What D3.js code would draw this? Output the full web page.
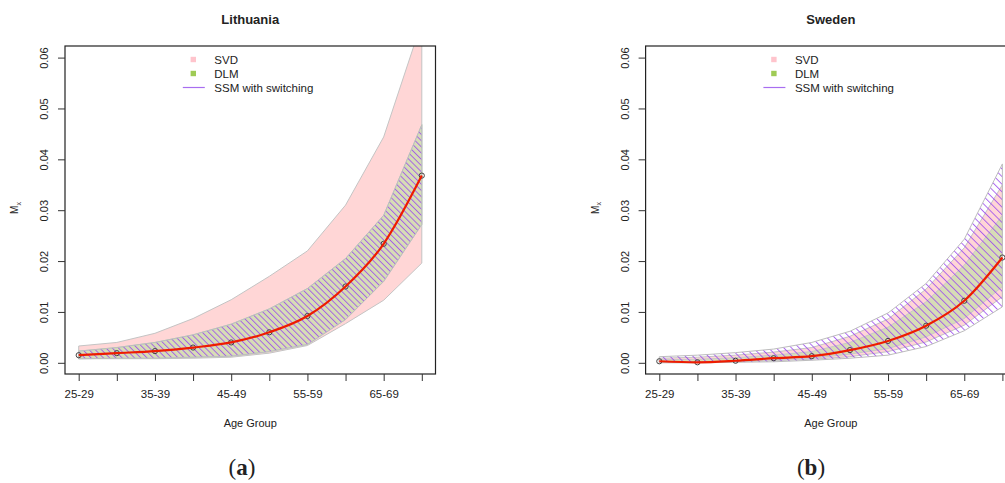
<!DOCTYPE html>
<html>
<head>
<meta charset="utf-8">
<script src="https://cdn.jsdelivr.net/npm/d3@7"></script>
<style>
  html, body { margin: 0; padding: 0; background: #fff; overflow: hidden; }
  svg { display: block; }
  text { font-family: "Liberation Sans", Arial, sans-serif; fill: #222; }
</style>
</head>
<body>
<script>
// ---------- data ----------
const ageGroups = ["25-29","30-34","35-39","40-44","45-49","50-54","55-59","60-64","65-69","70-74"];
const yTicks = [0.00, 0.01, 0.02, 0.03, 0.04, 0.05, 0.06];
const legendLabels = ["SVD", "DLM", "SSM with switching"];
const panelTitles = ["Lithuania", "Sweden"];
const panelTags = ["a", "b"];

// Lithuania
const ltMean     = [0.0015, 0.0019, 0.0023, 0.0030, 0.0040, 0.0060, 0.0092, 0.0150, 0.0234, 0.0368];
const ltSvdLower = [0.0008, 0.0008, 0.0008, 0.0009, 0.0011, 0.0019, 0.0034, 0.0077, 0.0123, 0.0196];
const ltSvdUpper = [0.0033, 0.0040, 0.0058, 0.0087, 0.0124, 0.0170, 0.0220, 0.0310, 0.0444, 0.0670];
const ltDlmLower = [0.0008, 0.0009, 0.0009, 0.0011, 0.0013, 0.0022, 0.0036, 0.0085, 0.0160, 0.0272];
const ltDlmUpper = [0.0023, 0.0030, 0.0040, 0.0055, 0.0076, 0.0106, 0.0146, 0.0205, 0.0290, 0.0468];
const ltSsmLower = [0.0008, 0.0009, 0.0009, 0.0011, 0.0013, 0.0022, 0.0036, 0.0085, 0.0160, 0.0272];
const ltSsmUpper = [0.0023, 0.0030, 0.0040, 0.0055, 0.0076, 0.0106, 0.0146, 0.0205, 0.0290, 0.0468];

// Sweden
const seMean     = [0.0003, 0.0001, 0.0004, 0.0009, 0.0013, 0.0025, 0.0043, 0.0073, 0.0122, 0.0207];
const seSvdLower = [0.0001, 0.0001, 0.0002, 0.0004, 0.0007, 0.0012, 0.0022, 0.0041, 0.0074, 0.0130];
const seSvdUpper = [0.0009, 0.0011, 0.0015, 0.0021, 0.0030, 0.0052, 0.0086, 0.0145, 0.0226, 0.0350];
const seDlmLower = [0.0001, 0.0002, 0.0003, 0.0006, 0.0009, 0.0017, 0.0028, 0.0051, 0.0087, 0.0150];
const seDlmUpper = [0.0006, 0.0007, 0.0010, 0.0015, 0.0022, 0.0040, 0.0070, 0.0120, 0.0192, 0.0290];
const seSsmLower = [0.0000, 0.0000, 0.0001, 0.0002, 0.0005, 0.0009, 0.0015, 0.0032, 0.0063, 0.0110];
const seSsmUpper = [0.0012, 0.0015, 0.0020, 0.0027, 0.0040, 0.0062, 0.0098, 0.0156, 0.0243, 0.0391];

const panels = [
  {mean: ltMean, svd: [ltSvdLower, ltSvdUpper], dlm: [ltDlmLower, ltDlmUpper], ssm: [ltSsmLower, ltSsmUpper], hatch: 4.4},
  {mean: seMean, svd: [seSvdLower, seSvdUpper], dlm: [seDlmLower, seDlmUpper], ssm: [seSsmLower, seSsmUpper], hatch: 5.4}
];

// ---------- layout ----------
const W = 1005, H = 483;
const svg = d3.select("body").append("svg").attr("width", W).attr("height", H);
const defs = svg.append("defs");

const plotTop = 46, plotBottom = 374, plotW = 370.5;
const panelLefts = [65, 645.6];

const y = d3.scaleLinear().domain([0, 0.06]).range([362.8, 57.6]);

panels.forEach((p, pi) => {
  const left = panelLefts[pi];
  const right = left + plotW;
  const x = d3.scalePoint().domain(ageGroups).range([left + 13.7, right - 13.7]);
  const g = svg.append("g");

  // clip
  const clipId = "clip" + pi;
  defs.append("clipPath").attr("id", clipId)
    .append("rect").attr("x", left).attr("y", plotTop).attr("width", plotW).attr("height", plotBottom - plotTop);

  // hatch pattern
  const patId = "hatch" + pi;
  const pat = defs.append("pattern").attr("id", patId)
    .attr("patternUnits", "userSpaceOnUse")
    .attr("width", p.hatch).attr("height", p.hatch)
    .attr("patternTransform", "rotate(-45)");
  pat.append("line").attr("x1", 0.5).attr("y1", -1).attr("x2", 0.5).attr("y2", p.hatch + 1)
    .attr("stroke", "#9a48ee").attr("stroke-width", 0.8);

  const area = (lo, hi) => d3.area()
    .x((d, i) => x(ageGroups[i]))
    .y0((d, i) => y(lo[i]))
    .y1((d, i) => y(hi[i]))(ageGroups);

  const bands = g.append("g").attr("clip-path", `url(#${clipId})`);
  bands.append("path").attr("d", area(p.svd[0], p.svd[1]))
    .attr("fill", "#ffd6d6").attr("stroke", "#c4c4c4").attr("stroke-width", 1);
  bands.append("path").attr("d", area(p.dlm[0], p.dlm[1]))
    .attr("fill", "#d7ddb6").attr("stroke", pi === 0 ? "#c0d8c0" : "#c8c8c8").attr("stroke-width", 1);
  bands.append("path").attr("d", area(p.ssm[0], p.ssm[1]))
    .attr("fill", `url(#${patId})`).attr("stroke", "#bdbdbd").attr("stroke-width", 1);

  // points and line
  bands.selectAll("circle").data(p.mean).join("circle")
    .attr("cx", (d, i) => x(ageGroups[i])).attr("cy", d => y(d))
    .attr("r", 2.6).attr("fill", "none").attr("stroke", "#444").attr("stroke-width", 1);
  bands.append("path")
    .attr("d", d3.line().x((d, i) => x(ageGroups[i])).y(d => y(d)).curve(d3.curveMonotoneX)(p.mean))
    .attr("fill", "none").attr("stroke", "#ee1c00").attr("stroke-width", 2.2);

  // box
  g.append("rect").attr("x", left).attr("y", plotTop).attr("width", plotW).attr("height", plotBottom - plotTop)
    .attr("fill", "none").attr("stroke", "#222").attr("stroke-width", 1.2);

  // x axis
  const xAxis = d3.axisBottom(x).tickSize(7).tickPadding(9)
    .tickFormat((d, i) => i % 2 === 0 ? d : "");
  const xa = g.append("g").attr("transform", `translate(0,${plotBottom})`).call(xAxis);
  xa.select(".domain").remove();
  xa.selectAll("line").attr("stroke", "#333");
  xa.selectAll("text").style("font-size", "11.5px").attr("fill", "#222")
    .style("font-family", "Liberation Sans, Arial, sans-serif");

  // y axis
  const yAxis = d3.axisLeft(y).tickValues(yTicks).tickSize(7).tickFormat(d3.format(".2f"));
  const ya = g.append("g").attr("transform", `translate(${left},0)`).call(yAxis);
  ya.select(".domain").remove();
  ya.selectAll("line").attr("stroke", "#333");
  ya.selectAll("text")
    .attr("x", 0).attr("dy", null).attr("dominant-baseline", "middle")
    .attr("text-anchor", "middle")
    .attr("transform", "translate(-20,0) rotate(-90)")
    .style("font-size", "11px").attr("fill", "#222")
    .style("font-family", "Liberation Sans, Arial, sans-serif");

  // title
  g.append("text").attr("x", (left + right) / 2).attr("y", 24).attr("text-anchor", "middle")
    .style("font-size", "13px").style("font-weight", "bold").text(panelTitles[pi]);

  // axis labels
  g.append("text").attr("x", (left + right) / 2).attr("y", 427).attr("text-anchor", "middle")
    .style("font-size", "11px").text("Age Group");
  const yl = g.append("text").attr("transform", `translate(${left - 47},208) rotate(-90)`)
    .attr("text-anchor", "middle").style("font-size", "10px");
  yl.append("tspan").text("M");
  yl.append("tspan").attr("dy", 2.5).style("font-size", "7px").text("x");

  // legend
  const lx = left + 128.3;
  const legendY = [59.5, 73.5, 87.5];
  g.append("rect").attr("x", lx - 2.7).attr("y", legendY[0] - 2.7).attr("width", 5.4).attr("height", 5.4).attr("fill", "#ffc4cc");
  g.append("rect").attr("x", lx - 2.7).attr("y", legendY[1] - 2.7).attr("width", 5.4).attr("height", 5.4).attr("fill", "#9fcb55");
  g.append("line").attr("x1", lx - 10.5).attr("x2", lx + 11.5).attr("y1", legendY[2]).attr("y2", legendY[2])
    .attr("stroke", "#a86ef0").attr("stroke-width", 1.2);
  legendLabels.forEach((t, i) => {
    g.append("text").attr("x", lx + 21).attr("y", legendY[i]).attr("dominant-baseline", "central")
      .style("font-size", "11.5px").text(t);
  });

  // panel tag
  const tag = g.append("text").attr("x", [242, 811][pi]).attr("y", 475).attr("text-anchor", "middle")
    .style("font-family", "Liberation Serif, 'Times New Roman', serif").style("font-size", "23px").attr("fill", "#000");
  tag.append("tspan").text("(");
  tag.append("tspan").style("font-weight", "bold").text(panelTags[pi]);
  tag.append("tspan").text(")");
});
</script>
</body>
</html>
